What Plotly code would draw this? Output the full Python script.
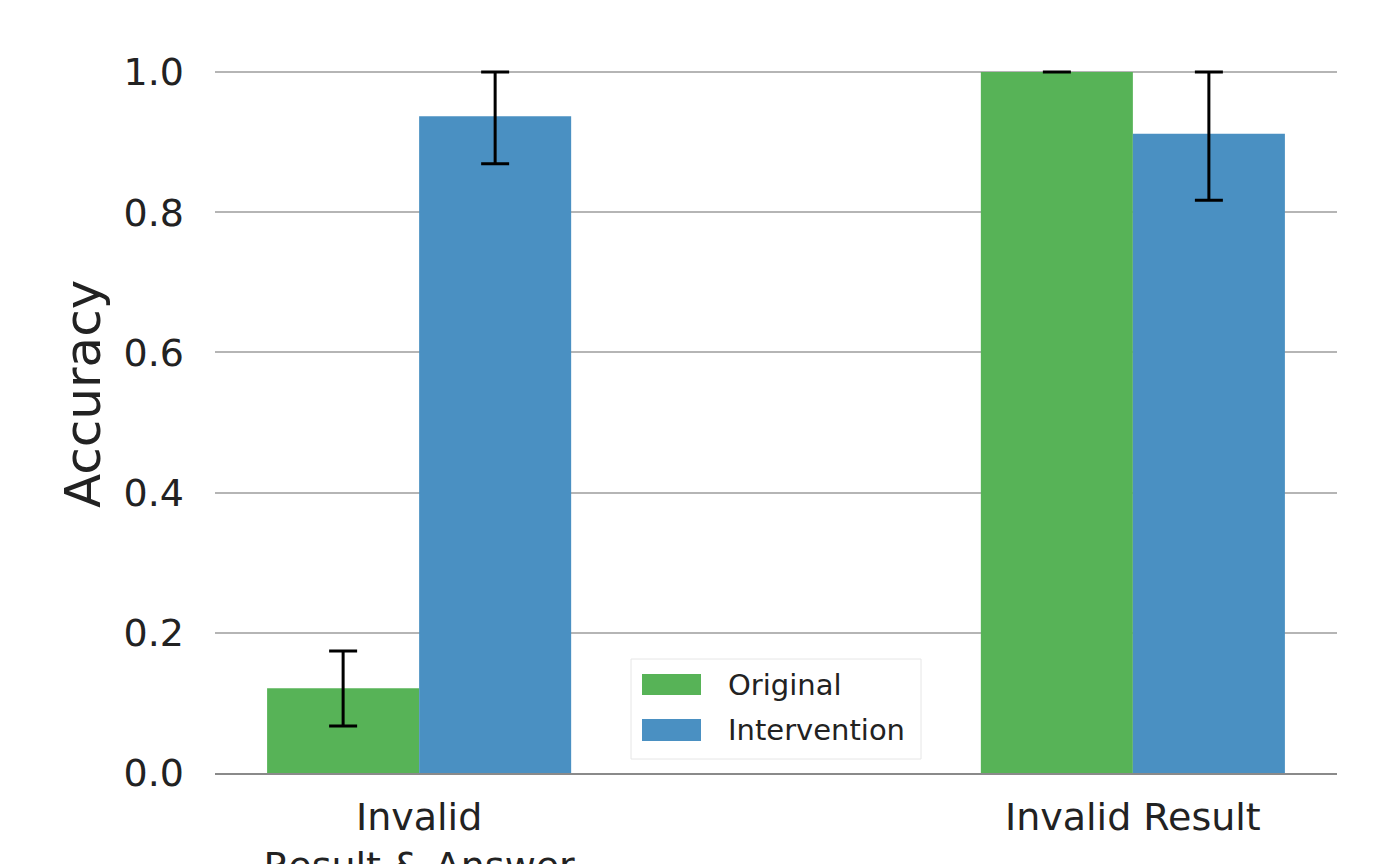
import plotly.graph_objects as go

categories = ["Invalid<br>Result & Answer", "Invalid Result"]
series_names = ["Original", "Intervention"]
original_vals = [0.121, 1.0]
original_err_plus = [0.053, 0.0]
original_err_minus = [0.054, 0.0]
intervention_vals = [0.937, 0.912]
intervention_err_plus = [0.063, 0.088]
intervention_err_minus = [0.068, 0.095]
y_ticks = [0.0, 0.2, 0.4, 0.6, 0.8, 1.0]
y_ticktext = ["0.0", "0.2", "0.4", "0.6", "0.8", "1.0"]

GREEN = "#57b357"
BLUE = "#4a90c2"
FONT = "DejaVu Sans"

fig = go.Figure()
err_style = dict(type="data", symmetric=False, color="black", thickness=3, width=14)
fig.add_trace(go.Bar(
    x=categories, y=original_vals, name=series_names[0], marker=dict(color=GREEN, line=dict(width=0)),
    error_y=dict(array=original_err_plus, arrayminus=original_err_minus, **err_style),
    showlegend=False,
))
fig.add_trace(go.Bar(
    x=categories, y=intervention_vals, name=series_names[1], marker=dict(color=BLUE, line=dict(width=0)),
    error_y=dict(array=intervention_err_plus, arrayminus=intervention_err_minus, **err_style),
    showlegend=False,
))

OFF = 8  # page body margin
W0, W1 = 215 - OFF, 1337 - OFF          # plot area in figure px
B0, T0 = 773 - OFF, 0
Y1PX = 72 - OFF                          # figure px of y=1.0
def px(x):
    return (x - OFF - W0) / (W1 - W0)
def py(y):
    return (B0 - (y - OFF)) / (B0 - T0)

shapes = [
    dict(type="rect", xref="paper", yref="paper", x0=px(631), x1=px(921), y0=py(759), y1=py(659),
         line=dict(color="#e6e6e6", width=1), fillcolor="rgba(255,255,255,0.85)", layer="above"),
    dict(type="rect", xref="paper", yref="paper", x0=px(642), x1=px(701), y0=py(695), y1=py(674),
         line=dict(width=0), fillcolor=GREEN, layer="above"),
    dict(type="rect", xref="paper", yref="paper", x0=px(642), x1=px(701), y0=py(741), y1=py(719),
         line=dict(width=0), fillcolor=BLUE, layer="above"),
]
annotations = [
    dict(text=series_names[0], xref="paper", yref="paper", x=px(726), y=py(685), xanchor="left", yanchor="middle",
         showarrow=False, font=dict(family=FONT, size=29, color="#222")),
    dict(text=series_names[1], xref="paper", yref="paper", x=px(726), y=py(730), xanchor="left", yanchor="middle",
         showarrow=False, font=dict(family=FONT, size=29, color="#222")),
    dict(text="Accuracy", xref="paper", yref="paper", x=px(83), y=py(394), xanchor="center", yanchor="middle",
         textangle=-90, showarrow=False, font=dict(family=FONT, size=50, color="#222")),
]

fig.update_layout(
    width=1387, height=864,
    margin=dict(l=W0, r=1387 - W1, t=T0, b=864 - B0, pad=0),
    paper_bgcolor="white", plot_bgcolor="white",
    barmode="group", bargap=0.574, bargroupgap=0,
    font=dict(family=FONT, color="#222"),
    shapes=shapes, annotations=annotations,
    xaxis=dict(
        range=[-0.286, 1.286], showgrid=False, showline=True, linecolor="#8a8a8a", linewidth=2,
        ticks="", tickfont=dict(family=FONT, size=38, color="#222"), ticklabelstandoff=9,
        automargin=False,
    ),
    yaxis=dict(
        range=[0, (B0 - T0) / (B0 - Y1PX)], tickvals=y_ticks, ticktext=y_ticktext,
        showgrid=True, gridcolor="#b5b5b5", gridwidth=1.5, zeroline=False, showline=False,
        ticks="", tickfont=dict(family=FONT, size=38, color="#222"), ticklabelstandoff=30,
        automargin=False,
    ),
)

fig.write_html("out.html")
